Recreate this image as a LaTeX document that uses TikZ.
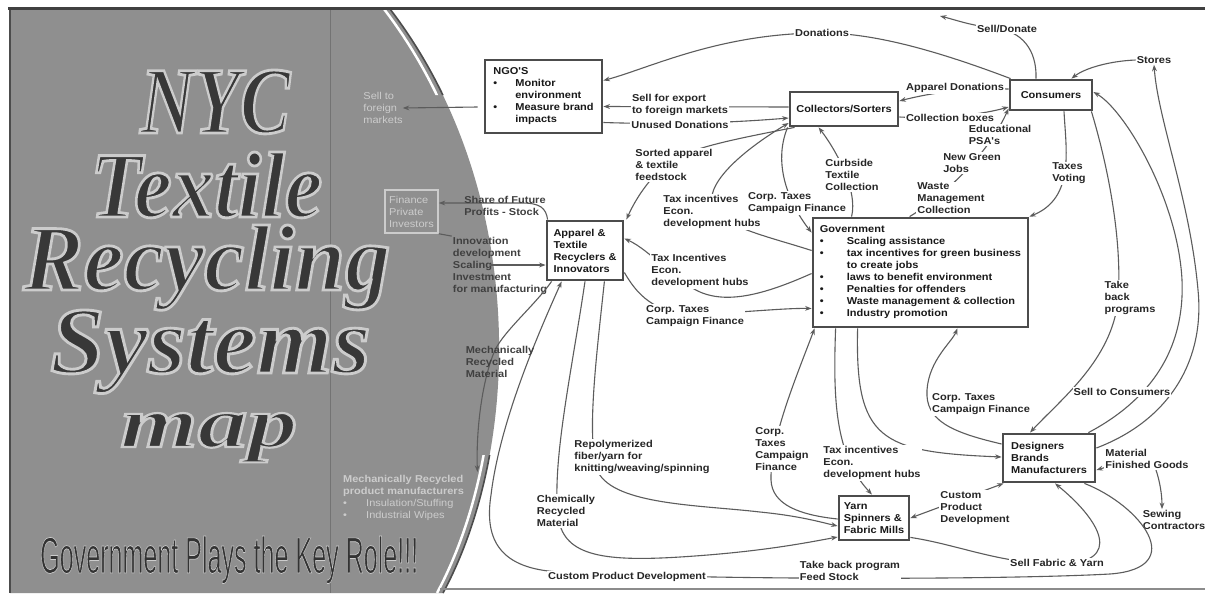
\documentclass[tikz,border=0pt]{standalone}
\usepackage{graphicx}
\usepackage{fontspec}
\setmainfont{Liberation Sans}
\newfontfamily\lblfont{Liberation Sans}[FakeStretch=1.1]
\newfontfamily\titlefont{Liberation Serif}
\usetikzlibrary{arrows.meta,calc}

\definecolor{panel}{gray}{0.56}
\definecolor{ink}{gray}{0.22}
\definecolor{wire}{gray}{0.36}
\definecolor{boxline}{gray}{0.30}
\definecolor{pale}{gray}{0.80}

\newcommand\myblt[1][22pt]{\makebox[#1][l]{\textbullet}}
\newcommand\myind[1][22pt]{\hspace*{#1}}
\newcommand\ttl{\titlefont\bfseries\itshape}
% light outline round dark letters (fill + stroke text rendering)
\newcommand\outl[2]{\special{pdf:literal direct 2 Tr #1 w 0.8 G}#2\special{pdf:literal direct 0 Tr}}

\begin{document}
\begin{tikzpicture}[x=1pt,y=-1pt,
  lab/.style={font=\lblfont\bfseries\fontsize{10}{12}\selectfont, align=left, inner sep=1pt, text=black!85},
  wlab/.style={lab, fill=white},
  plab/.style={font=\lblfont\fontsize{10}{12}\selectfont, align=left, inner sep=0pt, text=pale},
  ttlnode/.style={anchor=base west, inner sep=0pt, text=ink},
  box/.style={draw=boxline, line width=2.8pt, fill=white, font=\lblfont\bfseries\fontsize{10}{12}\selectfont, align=left, inner sep=3pt, text=black!90},
  cn/.style={draw=wire, line width=1.1pt, -{Stealth[length=6.5pt,width=4.8pt]}},
  cnb/.style={draw=wire, line width=1.1pt, {Stealth[length=6.5pt,width=4.8pt]}-{Stealth[length=6.5pt,width=4.8pt]}},
  ln/.style={draw=wire, line width=1.1pt}]

\useasboundingbox (0,0) rectangle (1205,595);
\fill[white] (0,0) rectangle (1205,595);

% ---------- left panel ----------
\fill[panel] (10,9) -- (390,9) .. controls (525,185) and (525,440) .. (443,593) -- (10,593) -- cycle;
\draw[black!55, line width=1pt] (330,9) -- (330,593);
\begin{scope}
  \clip (0,0) rectangle (600,95) (0,455) rectangle (600,595);
  \draw[white, line width=2.5pt] (384,9) .. controls (519,185) and (519,440) .. (437,593);
  \draw[black!70, line width=1.6pt] (390,9) .. controls (525,185) and (525,440) .. (443,593);
\end{scope}
\draw[black!70, line width=2.2pt] (10,8) -- (10,593);
\draw[black!75, line width=3pt] (8,8) -- (1205,8);
\draw[black!45, line width=1.2pt] (440,589) -- (1205,589);

\node[ttlnode] (tNYC) at (140,133) {\resizebox{150pt}{63pt}{\ttl\outl{0.3}{NYC}}};
\node[ttlnode] (tTex) at (90,217) {\resizebox{232pt}{65pt}{\ttl\outl{0.3}{Textile}}};
\node[ttlnode] (tRec) at (23,290) {\resizebox{367pt}{65pt}{\ttl\outl{0.3}{Recycling}}};
\node[ttlnode] (tSys) at (50,373) {\resizebox{320pt}{63pt}{\ttl\outl{0.3}{Systems}}};
\node[ttlnode] (tMap) at (120,447) {\resizebox{177pt}{34pt}{\ttl\outl{0.3}{map}}};
\node[ttlnode, text=black!80] (tGov) at (40,573) {\resizebox{378pt}{37pt}{\outl{0.14}{Government Plays the Key Role!!!}}};

% ---------- boxes ----------
\node[box, minimum width=117pt, minimum height=73pt] (ngo) at (543.5,96.5)
  {NGO'S\\\myblt Monitor\\\myind environment\\\myblt Measure brand\\\myind impacts};
\node[box, minimum width=108pt, minimum height=34pt] (coll) at (844,109) {Collectors/Sorters};
\node[box, minimum width=82pt, minimum height=30pt] (cons) at (1051,95) {Consumers};
\node[box, minimum width=215pt, minimum height=109pt] (gov) at (920.5,272.5)
  {Government\\\myblt[27pt]Scaling assistance\\\myblt[27pt]tax incentives for green business\\\myind[27pt]to create jobs\\\myblt[27pt]laws to benefit environment\\\myblt[27pt]Penalties for offenders\\\myblt[27pt]Waste management \& collection\\\myblt[27pt]Industry promotion};
\node[box, minimum width=76pt, minimum height=59pt] (app) at (585,250.5) {Apparel \&\\Textile\\Recyclers \&\\Innovators};
\node[box, minimum width=70pt, minimum height=44pt] (yarn) at (874,518) {Yarn\\Spinners \&\\Fabric Mills};
\node[box, minimum width=92pt, minimum height=48pt] (des) at (1049,458) {Designers\\Brands\\Manufacturers};

% ---------- end-point texts ----------
\node[lab] (stores) at (1154,60) {Stores};
\node[lab] (sewing) at (1174,520) {Sewing\\Contractors};
\node[plab] (sfm) at (383,108) {Sell to\\foreign\\markets};
\node[draw=pale, line width=1.5pt, plab, inner sep=2pt, minimum width=53pt, minimum height=43pt] (fin) at (411.5,211.5) {Finance\\Private\\Investors};
\node[font=\lblfont\fontsize{10}{12}\selectfont, text=pale, align=left, anchor=north west, inner sep=1pt, text width=127pt] (mrp) at (342,474)
  {\textbf{Mechanically Recycled}\\\textbf{product manufacturers}\\\myblt[23pt]Insulation/Stuffing\\\myblt[23pt]Industrial Wipes};
\node[lab, text=black!75] (inn) at (500,266) {Innovation\\development\\Scaling\\Investment\\for manufacturing};
\coordinate (sdend) at (940,16);
\coordinate (scal) at (490,265);

% ---------- connectors ----------
\draw[cn] ($(cons.north west)+(2,0)$) .. controls (930,48) and (870,33) .. (822,33) .. controls (720,33) and (650,68) .. ($(ngo.east)+(0,-16)$);
\draw[cn] ($(cons.north)+(-15,0)$) .. controls (1037,50) and (1022,31) .. (995,28) .. controls (972,26) and (956,20) .. (sdend);
\draw[cn] (stores.west) .. controls (1110,61) and (1085,68) .. ($(cons.north east)+(-22,0)$);
\draw[cn] ($(cons.west)+(0,-6)$) .. controls (965,88) and (930,93) .. ($(coll.east)+(0,-8)$);
\draw[cn] ($(coll.east)+(0,8)$) .. controls (940,119) and (980,115) .. ($(cons.west)+(0,12)$);
\draw[cn] ($(coll.west)+(0,-2)$) -- ($(ngo.east)+(0,10)$);
\draw[cn] ($(ngo.east)+(0,26)$) .. controls (680,125) and (740,122) .. ($(coll.west)+(0,9)$);
\draw[cn] ($(coll.south west)+(6,0)$) .. controls (730,140) and (690,148) .. (670,162) .. controls (650,176) and (635,200) .. ($(app.north east)+(2,0)$);
\draw[cn] ($(gov.north west)+(40,0)$) .. controls (858,190) and (836,150) .. ($(coll.south west)+(30,0)$);
\draw[cn] ($(coll.south west)+(-1,0)$) .. controls (772,165) and (790,205) .. ($(gov.north west)+(0,16)$);
\draw[cn] ($(gov.west)+(0,-22)$) .. controls (770,237) and (718,226) .. (712,205) .. controls (706,180) and (750,146) .. ($(coll.west)+(0,14)$);
\draw[cn] ($(gov.west)+(0,1)$) .. controls (770,292) and (730,305) .. (700,292) .. controls (675,281) and (650,250) .. ($(app.east)+(0,-12)$);
\draw[cn] ($(app.east)+(0,22)$) .. controls (640,300) and (660,315) .. (700,314) .. controls (750,312) and (785,308) .. ($(gov.west)+(0,36)$);
\draw[cn] ($(app.south west)+(6,0)$) .. controls (535,305) and (505,330) .. (495,350) .. controls (482,380) and (476,430) .. ($(mrp.north east)+(6,-2)$);
\draw[cn] ($(des.south east)+(-12,0)$) .. controls (1140,505) and (1190,568) .. (1110,574) .. controls (1000,580) and (700,580) .. (560,572) .. controls (500,569) and (484,540) .. (491,495) .. controls (500,420) and (540,330) .. ($(app.south west)+(16,0)$);
\draw[cn] (app.south) .. controls (572,370) and (552,460) .. (558,515) .. controls (562,555) and (600,562) .. (680,557) .. controls (760,552) and (805,543) .. ($(yarn.west)+(0,19)$);
\draw[cn] ($(app.south east)+(-20,0)$) .. controls (596,360) and (586,440) .. (598,472) .. controls (615,505) and (700,505) .. (760,512) .. controls (800,516) and (820,522) .. ($(yarn.west)+(0,8)$);
\draw[cn] ($(yarn.west)+(0,1)$) .. controls (800,515) and (772,505) .. (771,480) .. controls (770,440) and (795,380) .. ($(gov.south west)+(3,0)$);
\draw[cn] ($(gov.south west)+(24,0)$) .. controls (833,400) and (835,455) .. ($(yarn.north)+(-2,0)$);
\draw[cn] ($(gov.south west)+(46,0)$) .. controls (855,440) and (880,452) .. ($(des.west)+(0,-1)$);
\draw[cn] ($(des.west)+(0,-14)$) .. controls (950,432) and (925,420) .. (927,390) .. controls (929,360) and (952,342) .. ($(gov.south east)+(-72,0)$);
\draw[cn] ($(cons.south east)+(-2,0)$) .. controls (1112,180) and (1122,250) .. (1118,300) .. controls (1112,360) and (1060,400) .. ($(des.north)+(-19,0)$);
\draw[cn] ($(des.north east)+(-8,0)$) .. controls (1150,400) and (1185,350) .. (1182,280) .. controls (1178,200) and (1125,110) .. ($(cons.east)+(0,-3)$);
\draw[cn] ($(des.east)+(0,-10)$) .. controls (1170,420) and (1205,360) .. (1198,290) .. controls (1190,200) and (1158,120) .. (stores.south);
\draw[cn] ($(cons.south)+(13,0)$) .. controls (1066,150) and (1075,198) .. (gov.north east);
\draw[cn] ($(gov.north west)+(98,0)$) .. controls (950,192) and (990,150) .. ($(cons.south west)+(0,-3)$);
\draw[cnb] ($(des.east)+(0,12)$) .. controls (1120,463) and (1150,456) .. (1156,470) .. controls (1160,482) and (1162,495) .. ($(sewing.north)+(-12,0)$);
\draw[cnb] ($(des.south west)+(2,0)$) -- (yarn.east);
\draw[cn] ($(yarn.south east)+(0,-4)$) .. controls (960,545) and (1000,564) .. (1060,564) .. controls (1125,563) and (1100,520) .. ($(des.south)+(6,0)$);
\draw[ln] (fin.south east) -- (inn.north west);
\draw[cn] (scal) -- (app.west |- scal);
\draw[cn] ($(app.north west)+(2,0)$) .. controls (546,208) and (540,203) .. (522,203) -- ($(fin.east)+(0,-8.5)$);
\draw[cn] ($(ngo.west)+(-6,10.5)$) -- (sfm.east);

% ---------- connector labels ----------
\node[wlab] (lDon) at (822,33) {Donations};
\node[wlab] (lSD) at (1007,29) {Sell/Donate};
\node[wlab] (lAD) at (955,88) {Apparel Donations};
\node[wlab] (lCB) at (950,118) {Collection boxes};
\node[wlab] (lSE) at (680,105) {Sell for export\\to foreign markets};
\node[wlab] (lUD) at (680,125) {Unused Donations};
\node[wlab] (lSo) at (674,165) {Sorted apparel\\\& textile\\feedstock};
\node[wlab] (lCu) at (852,175) {Curbside\\Textile\\Collection};
\node[wlab] (lT1) at (712,212) {Tax incentives\\Econ.\\development hubs};
\node[wlab] (lC1) at (797,203) {Corp. Taxes\\Campaign Finance};
\node[wlab] (lT2) at (700,271) {Tax Incentives\\Econ.\\development hubs};
\node[wlab] (lC2) at (695,316) {Corp. Taxes\\Campaign Finance};
\node[wlab] (lEd) at (1000,135) {Educational\\PSA's};
\node[wlab] (lNG) at (972,163) {New Green\\Jobs};
\node[wlab] (lWM) at (951,198) {Waste\\Management\\Collection};
\node[wlab] (lTV) at (1069,173) {Taxes\\Voting};
\node[wlab] (lTB) at (1130,298) {Take\\back\\programs};
\node[wlab] (lSC) at (1122,392) {Sell to Consumers};
\node[wlab] (lC3) at (981,404) {Corp. Taxes\\Campaign Finance};
\node[wlab] (lMF) at (1147,459) {Material\\Finished Goods};
\node[wlab] (lCP2) at (975,508) {Custom\\Product\\Development};
\node[wlab] (lSF) at (1057,563) {Sell Fabric \& Yarn};
\node[wlab] (lTBP) at (850,571) {Take back program\\Feed Stock};
\node[wlab] (lCP1) at (627,577) {Custom Product Development};
\node[wlab] (lC4) at (782,449) {Corp.\\Taxes\\Campaign\\Finance};
\node[wlab] (lT3) at (872,463) {Tax incentives\\Econ.\\development hubs};
\node[wlab] (lRP) at (642,457) {Repolymerized\\fiber/yarn for\\knitting/weaving/spinning};
\node[wlab] (lCh) at (566,511) {Chemically\\Recycled\\Material};
\node[lab, text=black!75] (lMe) at (500,362) {Mechanically\\Recycled\\Material};
\node[lab, text=black!75] (lSh) at (505,206) {Share of Future\\Profits - Stock};
\end{tikzpicture}
\end{document}
